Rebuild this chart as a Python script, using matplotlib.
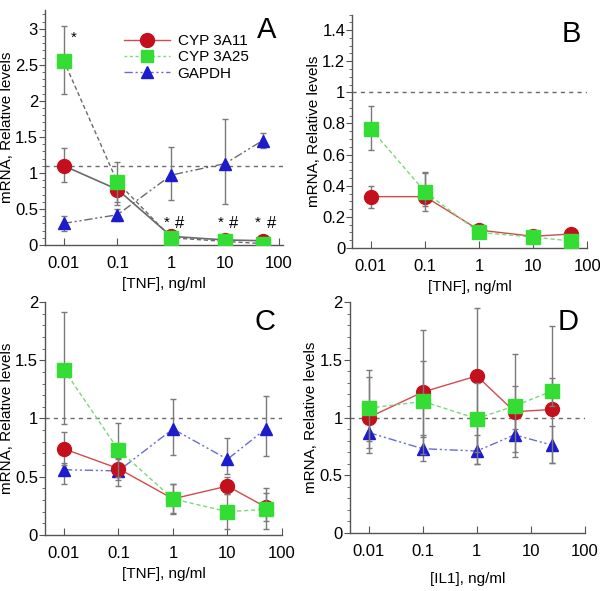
import matplotlib
matplotlib.use("Agg")
import matplotlib.pyplot as plt
from matplotlib.ticker import FixedLocator, MultipleLocator, LogLocator, NullFormatter, FuncFormatter
from matplotlib.lines import Line2D
import numpy as np

plt.rcParams['font.family'] = ['Liberation Sans', 'DejaVu Sans']

# ---------------- data ----------------
tnf_conc = [0.01, 0.1, 1, 10, 50]
il1_conc = [0.01, 0.1, 1, 5, 25]
xtick_vals = [0.01, 0.1, 1, 10, 100]
xtick_labels = ["0.01", "0.1", "1", "10", "100"]
series_names = ["CYP 3A11", "CYP 3A25", "GAPDH"]

# Panel A  (mean, lower bound, upper bound of error bar)
A_3a11 = [1.10, 0.77, 0.12, 0.07, 0.06]
A_3a11_lo = [0.87, 0.60, 0.09, 0.05, 0.04]
A_3a11_hi = [1.35, 0.95, 0.15, 0.09, 0.08]
A_3a25 = [2.56, 0.87, 0.10, 0.05, 0.02]
A_3a25_lo = [2.10, 0.55, 0.07, 0.03, 0.01]
A_3a25_hi = [3.04, 1.15, 0.13, 0.07, 0.04]
A_gapdh = [0.30, 0.42, 0.97, 1.13, 1.45]
A_gapdh_lo = [0.20, 0.33, 0.63, 0.57, 1.35]
A_gapdh_hi = [0.40, 0.50, 1.36, 1.75, 1.55]
A_ref = 1.09

# Panel B
B_3a11 = [0.33, 0.33, 0.115, 0.075, 0.09]
B_3a11_lo = [0.26, 0.24, 0.10, 0.065, 0.08]
B_3a11_hi = [0.40, 0.48, 0.13, 0.085, 0.10]
B_3a25 = [0.765, 0.36, 0.10, 0.07, 0.045]
B_3a25_lo = [0.63, 0.27, 0.085, 0.06, 0.035]
B_3a25_hi = [0.91, 0.49, 0.115, 0.08, 0.055]
B_ref = 1.0

# Panel C
C_3a11 = [0.74, 0.57, 0.31, 0.42, 0.24]
C_3a11_lo = [0.60, 0.47, 0.19, 0.35, 0.12]
C_3a11_hi = [0.88, 0.65, 0.44, 0.50, 0.36]
C_3a25 = [1.42, 0.73, 0.31, 0.20, 0.22]
C_3a25_lo = [0.95, 0.50, 0.18, 0.05, 0.05]
C_3a25_hi = [1.91, 0.96, 0.44, 0.35, 0.40]
C_gapdh = [0.56, 0.55, 0.91, 0.65, 0.91]
C_gapdh_lo = [0.44, 0.42, 0.69, 0.52, 0.68]
C_gapdh_hi = [0.62, 0.66, 1.17, 0.83, 1.19]
C_ref = 1.0

# Panel D
D_3a11 = [1.00, 1.22, 1.36, 1.05, 1.07]
D_3a11_lo = [0.69, 0.68, 0.60, 0.66, 0.61]
D_3a11_hi = [1.41, 1.76, 1.95, 1.55, 1.79]
D_3a25 = [1.08, 1.14, 0.99, 1.10, 1.23]
D_3a25_lo = [0.80, 0.83, 0.70, 0.90, 1.10]
D_3a25_hi = [1.35, 1.49, 1.30, 1.27, 1.34]
D_gapdh = [0.87, 0.73, 0.71, 0.85, 0.76]
D_gapdh_lo = [0.74, 0.62, 0.60, 0.70, 0.61]
D_gapdh_hi = [0.95, 0.85, 0.85, 1.00, 0.93]
D_ref = 1.0

RED = "#c4101c"
GREEN = "#33dd33"
BLUE = "#1c1ccc"
GRAY = "#6a6a6a"
ERR = "#7a7a7a"
LGREEN = "#7ad87a"
LBLUE = "#6a6ad8"
LRED = "#d44a4a"

DASHDOTDOT = (0, (6, 2, 1.5, 2, 1.5, 2))
DASHED = (0, (3, 2))

fig = plt.figure(figsize=(6.0, 5.91), dpi=100)


def make_ax(rect, ymax, ymajor, yminor, xlabel_txt, letter, xmax=100):
    ax = fig.add_axes(rect)
    ax.set_xscale('log')
    ax.set_xlim(0.0045, xmax)
    ax.set_ylim(0, ymax)
    ax.spines['top'].set_visible(False)
    ax.spines['right'].set_visible(False)
    for s in ['left', 'bottom']:
        ax.spines[s].set_color('#555555')
        ax.spines[s].set_linewidth(1.0)
    ax.xaxis.set_major_locator(FixedLocator(xtick_vals))
    ax.set_xticklabels(xtick_labels)
    ax.xaxis.set_minor_locator(LogLocator(base=10, subs=np.arange(2, 10)))
    ax.xaxis.set_minor_formatter(NullFormatter())
    ax.yaxis.set_major_locator(MultipleLocator(ymajor))
    ax.yaxis.set_minor_locator(MultipleLocator(yminor))
    ax.tick_params(axis='x', which='major', direction='in', length=5, color='#555555', labelsize=12, pad=8)
    ax.tick_params(axis='x', which='minor', direction='in', length=3, color='#555555')
    ax.tick_params(axis='y', which='major', direction='out', length=4, color='#555555', labelsize=12, pad=1)
    ax.tick_params(axis='y', which='minor', direction='out', length=2, color='#555555')
    ax.yaxis.set_major_formatter(FuncFormatter(lambda v, p: '%g' % round(v, 2)))
    ax.set_ylabel("mRNA, Relative levels", fontsize=11, labelpad=1)
    ax.set_xlabel(xlabel_txt, fontsize=11, labelpad=4)
    ax.text(0.93, 0.975, letter, transform=ax.transAxes, fontsize=21, ha='center', va='top')
    return ax


def plot_series(ax, x, y, lo, hi, color, marker, ls, linecolor, z=3, lw=1.0):
    yerr = [np.array(y) - np.array(lo), np.array(hi) - np.array(y)]
    ax.errorbar(x, y, yerr=yerr, fmt='none', ecolor=ERR, elinewidth=1.0, capsize=2.5, capthick=1.0, zorder=z - 1)
    ax.plot(x, y, linestyle=ls, color=linecolor, lw=lw, zorder=z)
    ax.plot(x, y, linestyle='none', marker=marker, markersize=10 if marker != '^' else 9,
            markerfacecolor=color, markeredgecolor=color, zorder=z + 1)


# ---- Panel A ----
axA = make_ax([0.075, 0.5854, 0.397, 0.3976], 3.26, 0.5, 0.1, "[TNF], ng/ml", "A", xmax=120)
axA.axhline(A_ref, color=GRAY, ls=(0, (3, 3)), lw=1.0, zorder=1)
plot_series(axA, tnf_conc, A_gapdh, A_gapdh_lo, A_gapdh_hi, BLUE, '^', DASHDOTDOT, GRAY, z=3)
plot_series(axA, tnf_conc, A_3a11, A_3a11_lo, A_3a11_hi, RED, 'o', '-', GRAY, z=5, lw=1.2)
plot_series(axA, tnf_conc, A_3a25, A_3a25_lo, A_3a25_hi, GREEN, 's', DASHED, GRAY, z=7)
axA.text(0.0135, 2.88, "*", fontsize=11, ha='left', va='center')
for xv in [1, 10, 50]:
    axA.text(xv * 0.82, 0.31, "*", fontsize=11, ha='center', va='center')
    axA.text(xv * 1.45, 0.30, "#", fontsize=12, ha='center', va='center')
handles = [
    Line2D([], [], color=LRED, ls='-', lw=1.0, marker='o', markersize=10, markerfacecolor=RED, markeredgecolor=RED),
    Line2D([], [], color=LGREEN, ls=(0, (2, 2)), lw=1.0, marker='s', markersize=9, markerfacecolor=GREEN, markeredgecolor=GREEN),
    Line2D([], [], color=LBLUE, ls=DASHDOTDOT, lw=1.0, marker='^', markersize=8, markerfacecolor=BLUE, markeredgecolor=BLUE),
]
axA.legend(handles, series_names, loc='upper left', bbox_to_anchor=(0.3, 0.93), frameon=False,
           fontsize=11, handlelength=3.0, handletextpad=0.5, labelspacing=0.15, borderpad=0)

# ---- Panel B ----
axB = make_ax([0.587, 0.5804, 0.392, 0.3950], 1.5, 0.2, 0.05, "[TNF], ng/ml", "B")
axB.axhline(B_ref, color=GRAY, ls=(0, (3, 3)), lw=1.0, zorder=1)
plot_series(axB, tnf_conc, B_3a11, B_3a11_lo, B_3a11_hi, RED, 'o', '-', LRED, z=3)
plot_series(axB, tnf_conc, B_3a25, B_3a25_lo, B_3a25_hi, GREEN, 's', DASHED, LGREEN, z=5)

# ---- Panel C ----
axC = make_ax([0.075, 0.0948, 0.395, 0.3942], 2.0, 0.5, 0.1, "[TNF], ng/ml", "C")
axC.axhline(C_ref, color=GRAY, ls=(0, (3, 3)), lw=1.0, zorder=1)
plot_series(axC, tnf_conc, C_gapdh, C_gapdh_lo, C_gapdh_hi, BLUE, '^', DASHDOTDOT, LBLUE, z=3)
plot_series(axC, tnf_conc, C_3a11, C_3a11_lo, C_3a11_hi, RED, 'o', '-', LRED, z=5)
plot_series(axC, tnf_conc, C_3a25, C_3a25_lo, C_3a25_hi, GREEN, 's', DASHED, LGREEN, z=7)

# ---- Panel D ----
axD = make_ax([0.583, 0.0981, 0.392, 0.3909], 2.0, 0.5, 0.1, "[IL1], ng/ml", "D")
axD.xaxis.labelpad = 9
axD.axhline(D_ref, color=GRAY, ls=(0, (3, 3)), lw=1.0, zorder=1)
plot_series(axD, il1_conc, D_gapdh, D_gapdh_lo, D_gapdh_hi, BLUE, '^', DASHDOTDOT, LBLUE, z=3)
plot_series(axD, il1_conc, D_3a11, D_3a11_lo, D_3a11_hi, RED, 'o', '-', LRED, z=5)
plot_series(axD, il1_conc, D_3a25, D_3a25_lo, D_3a25_hi, GREEN, 's', DASHED, LGREEN, z=7)

fig.savefig("out.png", dpi=100)
